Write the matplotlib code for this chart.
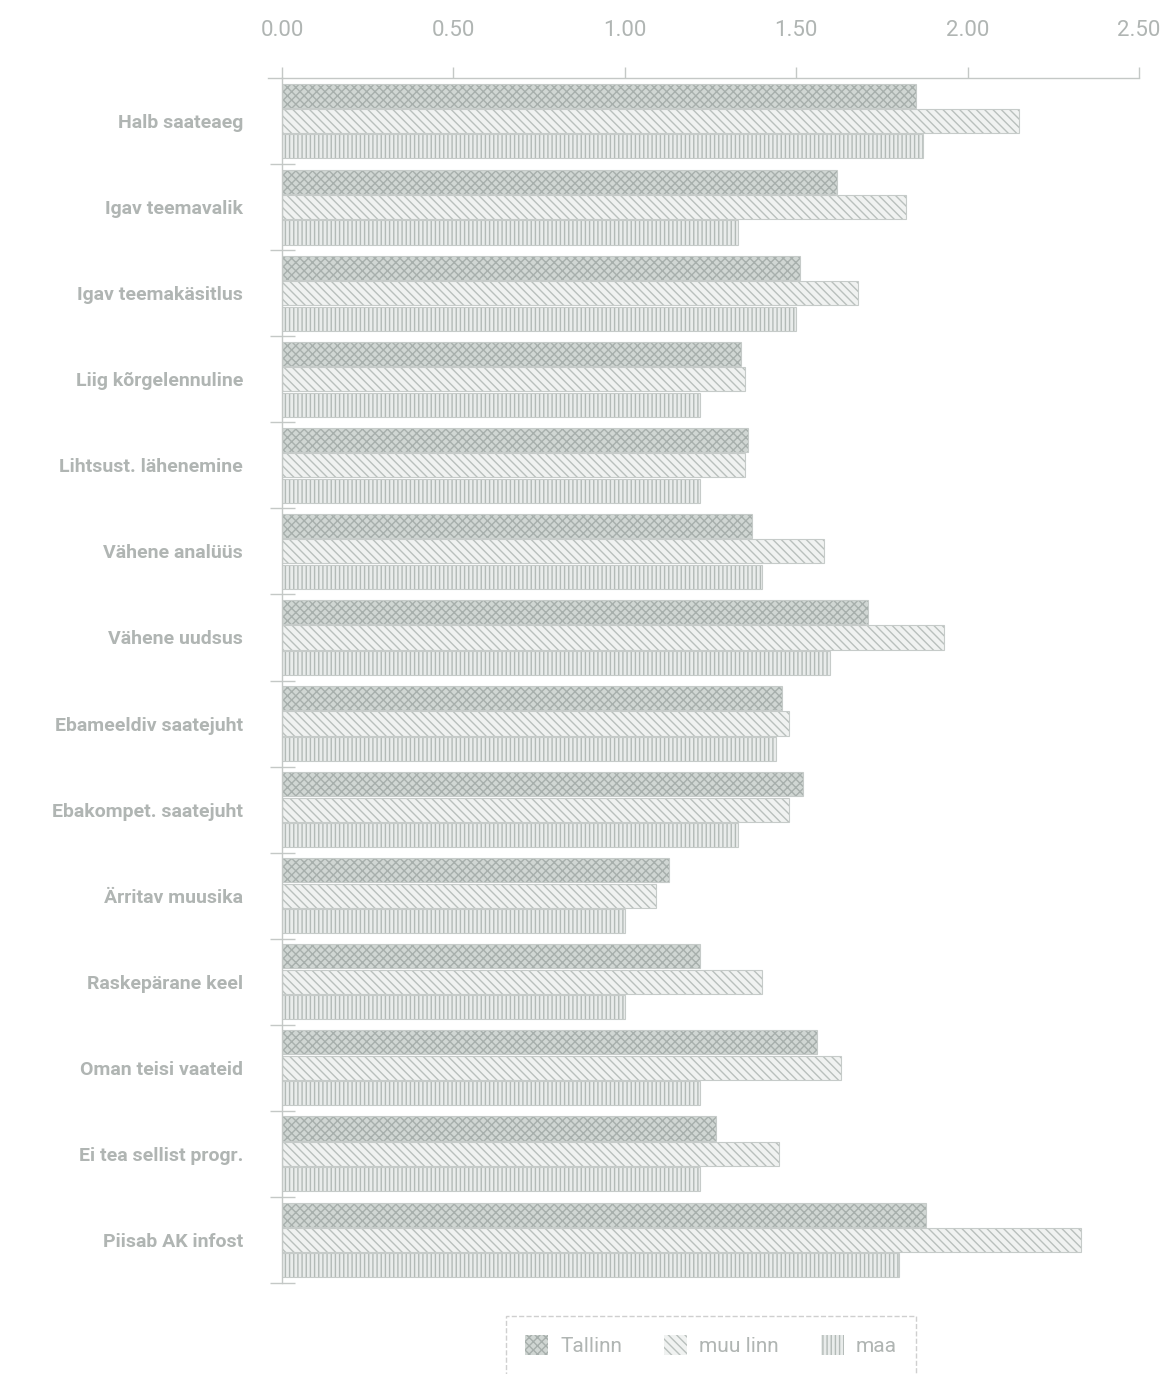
import matplotlib
matplotlib.use("Agg")
import matplotlib.pyplot as plt
from matplotlib.lines import Line2D
import numpy as np

categories = [
    "Halb saateaeg", "Igav teemavalik", "Igav teemakäsitlus", "Liig kõrgelennuline",
    "Lihtsust. lähenemine", "Vähene analüüs", "Vähene uudsus", "Ebameeldiv saatejuht",
    "Ebakompet. saatejuht", "Ärritav muusika", "Raskepärane keel", "Oman teisi vaateid",
    "Ei tea sellist progr.", "Piisab AK infost",
]
series_names = ["Tallinn", "muu linn", "maa"]
tallinn = [1.85, 1.62, 1.51, 1.34, 1.36, 1.37, 1.71, 1.46, 1.52, 1.13, 1.22, 1.56, 1.265, 1.88]
muu_linn = [2.15, 1.82, 1.68, 1.35, 1.35, 1.58, 1.93, 1.48, 1.48, 1.09, 1.40, 1.63, 1.45, 2.33]
maa = [1.87, 1.33, 1.50, 1.22, 1.22, 1.40, 1.60, 1.44, 1.33, 1.00, 1.00, 1.22, 1.22, 1.80]
xticks = [0.0, 0.5, 1.0, 1.5, 2.0, 2.5]
xtick_labels = ["0.00", "0.50", "1.00", "1.50", "2.00", "2.50"]

FONT = ["Roboto", "DejaVu Sans"]
plt.rcParams["font.family"] = FONT
plt.rcParams["hatch.linewidth"] = 1.0

TEXT = "#b0b5b3"
AXC = "#c4c8c6"

fig = plt.figure(figsize=(11.61, 13.74), dpi=100)
ax = fig.add_axes([282 / 1161, 1 - 1283 / 1374, (1139 - 282) / 1161, (1283 - 78) / 1374])

styles = [
    dict(face="#d0d6d3", hatch="xxxx", hc="#a7afac"),
    dict(face="#f0f2f1", hatch="\\\\\\\\", hc="#b9c0bd"),
    dict(face="#e9eceb", hatch="||||", hc="#b3bab7"),
]
y = np.arange(len(categories))
h = 0.28
offsets = [-0.295, 0.0, 0.295]
handles = []
for vals, off, st, name in zip([tallinn, muu_linn, maa], offsets, styles, series_names):
    b = ax.barh(y + off, vals, height=h, color=st["face"], edgecolor=st["hc"],
                hatch=st["hatch"], linewidth=0, label=name)
    ax.barh(y + off, vals, height=h, fill=False, edgecolor="#c6cbc9", linewidth=0.8)
    handles.append(b)

ax.set_xlim(0, 2.5)
ax.set_ylim(len(categories) - 0.5, -0.5)

ax.xaxis.tick_top()
ax.set_xticks(xticks)
ax.set_xticklabels(xtick_labels, fontsize=16, color=TEXT)
ax.tick_params(axis="x", direction="out", length=8, width=1, color=AXC, pad=19)

ax.set_yticks(y)
ax.set_yticklabels(categories, fontsize=14, color=TEXT, fontweight="bold")
ax.tick_params(axis="y", length=0, pad=28)
ax.set_yticks(np.arange(len(categories)) + 0.5, minor=True)
ax.tick_params(axis="y", which="minor", direction="inout", length=18, width=1, color=AXC)

for s in ["right", "bottom"]:
    ax.spines[s].set_visible(False)
for s in ["top", "left"]:
    ax.spines[s].set_color(AXC)
    ax.spines[s].set_linewidth(1)

ax.add_line(Line2D([-14 / 857, 0], [1, 1], transform=ax.transAxes, color=AXC,
                   linewidth=1, clip_on=False))

leg = fig.legend(handles=handles, labels=series_names, loc="upper center",
                 bbox_to_anchor=(711 / 1161, 1 - 1306 / 1374), ncol=3, frameon=True,
                 fontsize=15, labelcolor=TEXT, handlelength=1.1, handleheight=1.1,
                 columnspacing=2.0, borderpad=0.9, fancybox=False, handletextpad=0.6)
leg.get_frame().set_edgecolor("#c4c4c4")
leg.get_frame().set_linestyle("--")
leg.get_frame().set_linewidth(1)

fig.savefig("out.png", dpi=100, facecolor="white")
